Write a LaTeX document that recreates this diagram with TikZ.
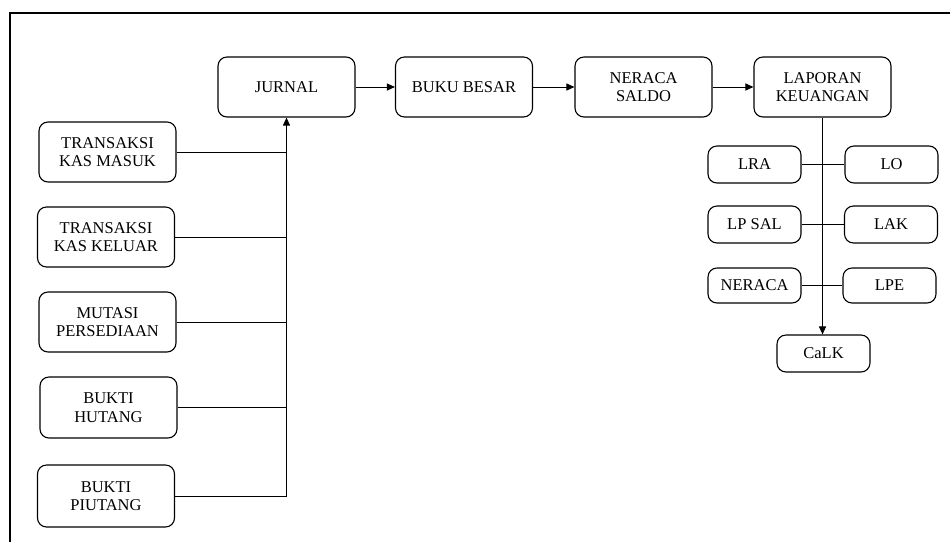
\documentclass[tikz,border=0pt]{standalone}
\usepackage{fontspec}
\setmainfont{Liberation Serif}
\usetikzlibrary{arrows.meta}
\begin{document}
\begin{tikzpicture}[x=1pt,y=-1pt,
  box/.style={draw, line width=1.1pt, rounded corners=9pt, inner sep=0pt, align=center,
    font=\fontsize{16.5}{18.5}\selectfont},
  bigbox/.style={box, minimum width=137pt, minimum height=60pt},
  smallbox/.style={box, minimum width=93pt, minimum height=37pt},
  conn/.style={line width=1pt},
  arr/.style={conn, -{Triangle[length=8pt,width=7pt]}}]
\useasboundingbox (0,0) rectangle (950,542);
% frame
\draw[line width=2.2pt] (9,13) -- (950,13);
\draw[line width=2.2pt] (10,12) -- (10,542);
% top row
\node[bigbox] (jurnal) at (286.5,87) {JURNAL};
\node[bigbox] (buku) at (464,87) {BUKU BESAR};
\node[bigbox] (ns) at (643.5,87) {NERACA\\SALDO};
\node[bigbox] (lk) at (822.5,87) {LAPORAN\\KEUANGAN};
% right column
\node[smallbox] (lra) at (754.5,164.5) {LRA};
\node[smallbox] (lo) at (891.5,164.5) {LO};
\node[smallbox] (lpsal) at (754.5,224.5) {LP SAL};
\node[smallbox] (lak) at (891,224.5) {LAK};
\node[smallbox, minimum height=35pt] (neraca) at (754.5,285.5) {NERACA};
\node[smallbox, minimum height=35pt] (lpe) at (889.5,285.5) {LPE};
\node[smallbox] (calk) at (823.5,353.5) {CaLK};
% left column
\node[bigbox] (tkm) at (107.5,152) {TRANSAKSI\\KAS MASUK};
\node[bigbox] (tkk) at (106,237) {TRANSAKSI\\KAS KELUAR};
\node[bigbox] (mp) at (107.5,322) {MUTASI\\PERSEDIAAN};
\node[bigbox, minimum height=61pt] (bh) at (108.5,407.5) {BUKTI\\HUTANG};
\node[bigbox, minimum height=62pt] (bp) at (106,496) {BUKTI\\PIUTANG};
% top arrows
\draw[arr] (jurnal.east) -- (buku.west);
\draw[arr] (buku.east) -- (ns.west);
\draw[arr] (ns.east) -- (lk.west);
% left trunk
\coordinate (trunkbot) at (bp.east -| jurnal.south);
\draw[conn] (tkm.east) -- (tkm.east -| jurnal.south);
\draw[conn] (tkk.east) -- (tkk.east -| jurnal.south);
\draw[conn] (mp.east) -- (mp.east -| jurnal.south);
\draw[conn] (bh.east) -- (bh.east -| jurnal.south);
\draw[conn] (bp.east) -- (trunkbot);
\draw[arr] (trunkbot) -- (jurnal.south);
% right trunk
\draw[arr] (lk.south) -- (lk.south |- calk.north);
\draw[conn] (lra.east) -- (lo.west);
\draw[conn] (lpsal.east) -- (lak.west);
\draw[conn] (neraca.east) -- (lpe.west);
\end{tikzpicture}
\end{document}
